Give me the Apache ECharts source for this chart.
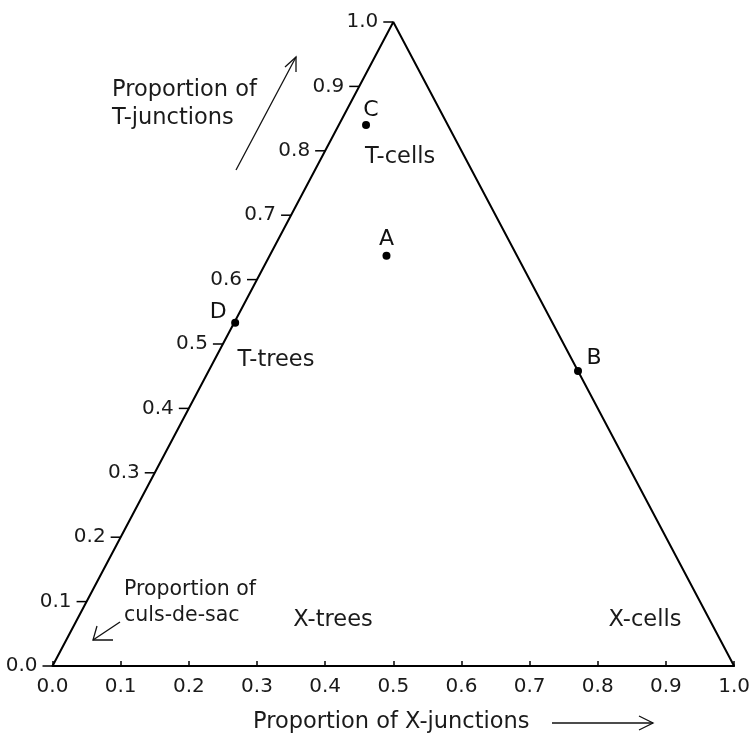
<!DOCTYPE html>
<html><head><meta charset="utf-8">
<script src="https://cdn.jsdelivr.net/npm/echarts@6/dist/echarts.min.js"></script>
<style>html,body{margin:0;padding:0;background:#fff}#c{width:753px;height:733px}</style>
</head><body><div id="c"></div>
<script>
// Triangle vertices in plot coordinates (x = horizontal axis, y = proportion of T-junctions)
const triangle = [[0, 0], [0.5, 1], [1, 0], [0, 0]];
// Left-edge tick values (proportion of T-junctions)
const tTicks = [0.0, 0.1, 0.2, 0.3, 0.4, 0.5, 0.6, 0.7, 0.8, 0.9, 1.0];
// Points: name, x, y
const pointNames = ['A', 'B', 'C', 'D'];
const pointX = [0.490, 0.771, 0.460, 0.268];
const pointY = [0.637, 0.458, 0.840, 0.533];
// Region labels
const regionNames = ['T-cells', 'T-trees', 'X-trees', 'X-cells'];

const FONT = 'DejaVu Sans';
const chart = echarts.init(document.getElementById('c'));

const labelOffsets = {A: [0, -16], B: [16, -13], C: [5, -15], D: [-17, -10]};
const regionPos = [[400, 157], [276, 360], [333, 620], [645, 620]];

function txt(s, x, y, size, align) {
  return {type: 'text', x: x, y: y, style: {text: s, font: size + 'px "DejaVu Sans"', fill: '#1a1a1a', align: align || 'left', verticalAlign: 'middle'}};
}
function pl(points) {
  return {type: 'polyline', shape: {points: points}, style: {stroke: '#111', lineWidth: 1.3, fill: null}};
}

chart.setOption({
  animation: false,
  grid: {left: 52.5, right: 17, top: 22, bottom: 67},
  xAxis: {
    type: 'value', min: 0, max: 1, interval: 0.1,
    axisLine: {lineStyle: {color: '#000', width: 2}},
    axisTick: {inside: true, length: 5, lineStyle: {color: '#000', width: 1.5}},
    splitLine: {show: false},
    axisLabel: {color: '#1a1a1a', fontFamily: FONT, fontSize: 20, margin: 11,
      formatter: v => v.toFixed(1)}
  },
  yAxis: {type: 'value', min: 0, max: 1, show: false},
  graphic: [
    txt('Proportion of', 112, 90, 22.5),
    txt('T-junctions', 112, 118.5, 22.5),
    pl([[236, 170], [296, 57]]),
    pl([[285, 67], [296, 57], [296, 72]]),
    txt('Proportion of', 124, 589.5, 20.5),
    txt('culs-de-sac', 124, 615.5, 20.5),
    pl([[120, 622], [93, 640]]),
    pl([[97, 626], [93, 640], [113, 640]]),
    txt('Proportion of X-junctions', 253, 722.5, 22.5),
    pl([[552, 723], [653, 723]]),
    pl([[639, 716], [653, 723], [639, 730]])
  ].concat(regionNames.map((n, i) => txt(n, regionPos[i][0], regionPos[i][1], 22.5, 'center'))),
  series: [
    {
      type: 'line', data: triangle, symbol: 'none', silent: true,
      lineStyle: {color: '#000', width: 2}
    },
    {
      type: 'custom', silent: true,
      data: tTicks.map(t => [t / 2, t]),
      renderItem: (params, api) => {
        const p = api.coord([api.value(0), api.value(1)]);
        return {type: 'group', children: [
          {type: 'line', shape: {x1: p[0] - 10, y1: p[1], x2: p[0], y2: p[1]}, style: {stroke: '#000', lineWidth: 1.5}},
          {type: 'text', x: p[0] - 15, y: p[1], style: {text: api.value(1).toFixed(1), font: '20px "DejaVu Sans"', fill: '#1a1a1a', align: 'right', verticalAlign: 'middle'}}
        ]};
      }
    },
    {
      type: 'scatter', symbolSize: 8, itemStyle: {color: '#000', opacity: 1},
      data: pointNames.map((n, i) => ({
        name: n, value: [pointX[i], pointY[i]],
        label: {show: true, formatter: n, position: 'inside', offset: labelOffsets[n],
          color: '#111', fontFamily: FONT, fontSize: 22}
      }))
    }
  ]
});
</script></body></html>
